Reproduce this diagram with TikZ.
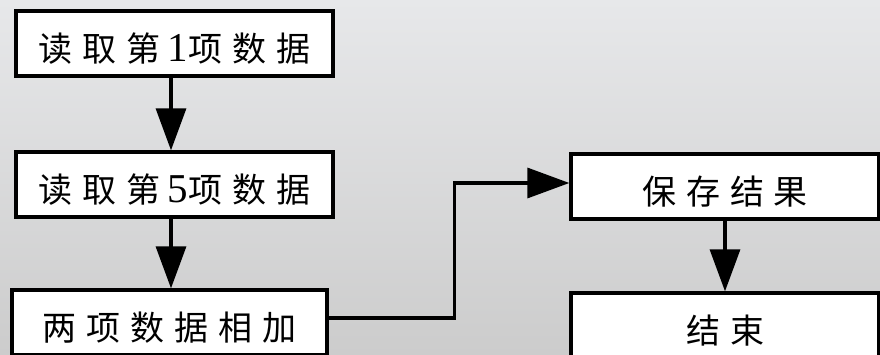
\documentclass[tikz,border=0pt]{standalone}
\usepackage{fontspec}
\setmainfont{Liberation Serif}
\newfontfamily\cjk{Noto Sans CJK SC}
\usetikzlibrary{arrows.meta}
\definecolor{bgtop}{RGB}{231,232,234}
\definecolor{bgbot}{RGB}{204,204,204}
\newcommand\gp{\hspace{10pt}}
\newcommand\dg[1]{{\fontsize{41}{41}\selectfont\rmfamily #1}\hspace{1pt}}
\tikzset{
  box/.style={draw=black, fill=white, line width=3.3pt, minimum height=65pt,
    inner sep=0pt, text height=36pt, text depth=0pt,
    font=\fontsize{34}{34}\selectfont\cjk},
  arr/.style={draw=black, line width=3.3pt, -{Triangle[length=42pt,width=30pt]}}
}
\begin{document}
\begin{tikzpicture}[x=1pt,y=-1pt]
\clip (0,0) rectangle (880,355);
\shade[top color=bgtop, middle color=bgtop, bottom color=bgbot] (0,0) rectangle (880,355);
\node[box, minimum width=317pt] (b1) at (174.5,43.5) {读\gp 取\gp 第\hspace{7pt}\dg{1}项\gp 数\gp 据};
\node[box, minimum width=317pt] (b2) at (174.5,184.5) {读\gp 取\gp 第\hspace{7pt}\dg{5}项\gp 数\gp 据};
\node[box, minimum width=315pt] (b3) at (169.5,322.5) {两\gp 项\gp 数\gp 据\gp 相\gp 加};
\node[box, minimum width=308pt] (b4) at (725,186.5) {保\gp 存\gp 结\gp 果};
\node[box, minimum width=308pt] (b5) at (725,325.5) {结\gp 束};
\draw[arr] ([xshift=-3.5pt]b1.south) -- ([xshift=-3.5pt]b2.north);
\draw[arr] ([xshift=-3.5pt]b2.south) -- ([xshift=1.5pt]b3.north);
\draw[arr] ([yshift=4.5pt]b3.east) -- ++(126,0) |- ([yshift=3.5pt]b4.west);
\draw[arr] (b4.south) -- (b5.north);
\end{tikzpicture}
\end{document}
